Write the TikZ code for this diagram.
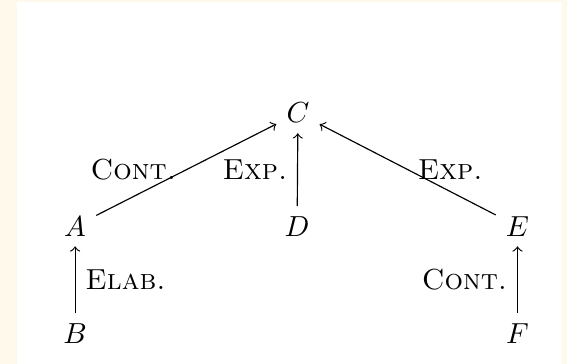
\documentclass[tikz,border=0pt]{standalone}
\usepackage{tikz}
\definecolor{cream}{RGB}{255,249,235}
\begin{document}
\begin{tikzpicture}[>=to]
  % page: cream strip at the left, top and right, white sheet inside
  \fill[cream] (0,0) rectangle (6.87,4.41);
  \fill[white] (0.21,0) rectangle (6.81,4.39);
  \useasboundingbox (0,0) rectangle (6.87,4.41);
  % discourse units
  \node (C) at (3.61,3.04) {$C$};
  \node (A) at (0.91,1.67) {$A$};
  \node (D) at (3.60,1.67) {$D$};
  \node (E) at (6.27,1.67) {$E$};
  \node (B) at (0.91,0.37) {$B$};
  \node (F) at (6.27,0.37) {$F$};
  % relations, each labelled at its middle
  \draw[->] (A) -- node[left] {\textsc{Cont.}} (C);
  \draw[->] (D) -- node[left] {\textsc{Exp.}} (C);
  \draw[->] (E) -- node[right] {\textsc{Exp.}} (C);
  \draw[->] (B) -- node[right] {\textsc{Elab.}} (A);
  \draw[->] (F) -- node[left] {\textsc{Cont.}} (E);
\end{tikzpicture}
\end{document}
